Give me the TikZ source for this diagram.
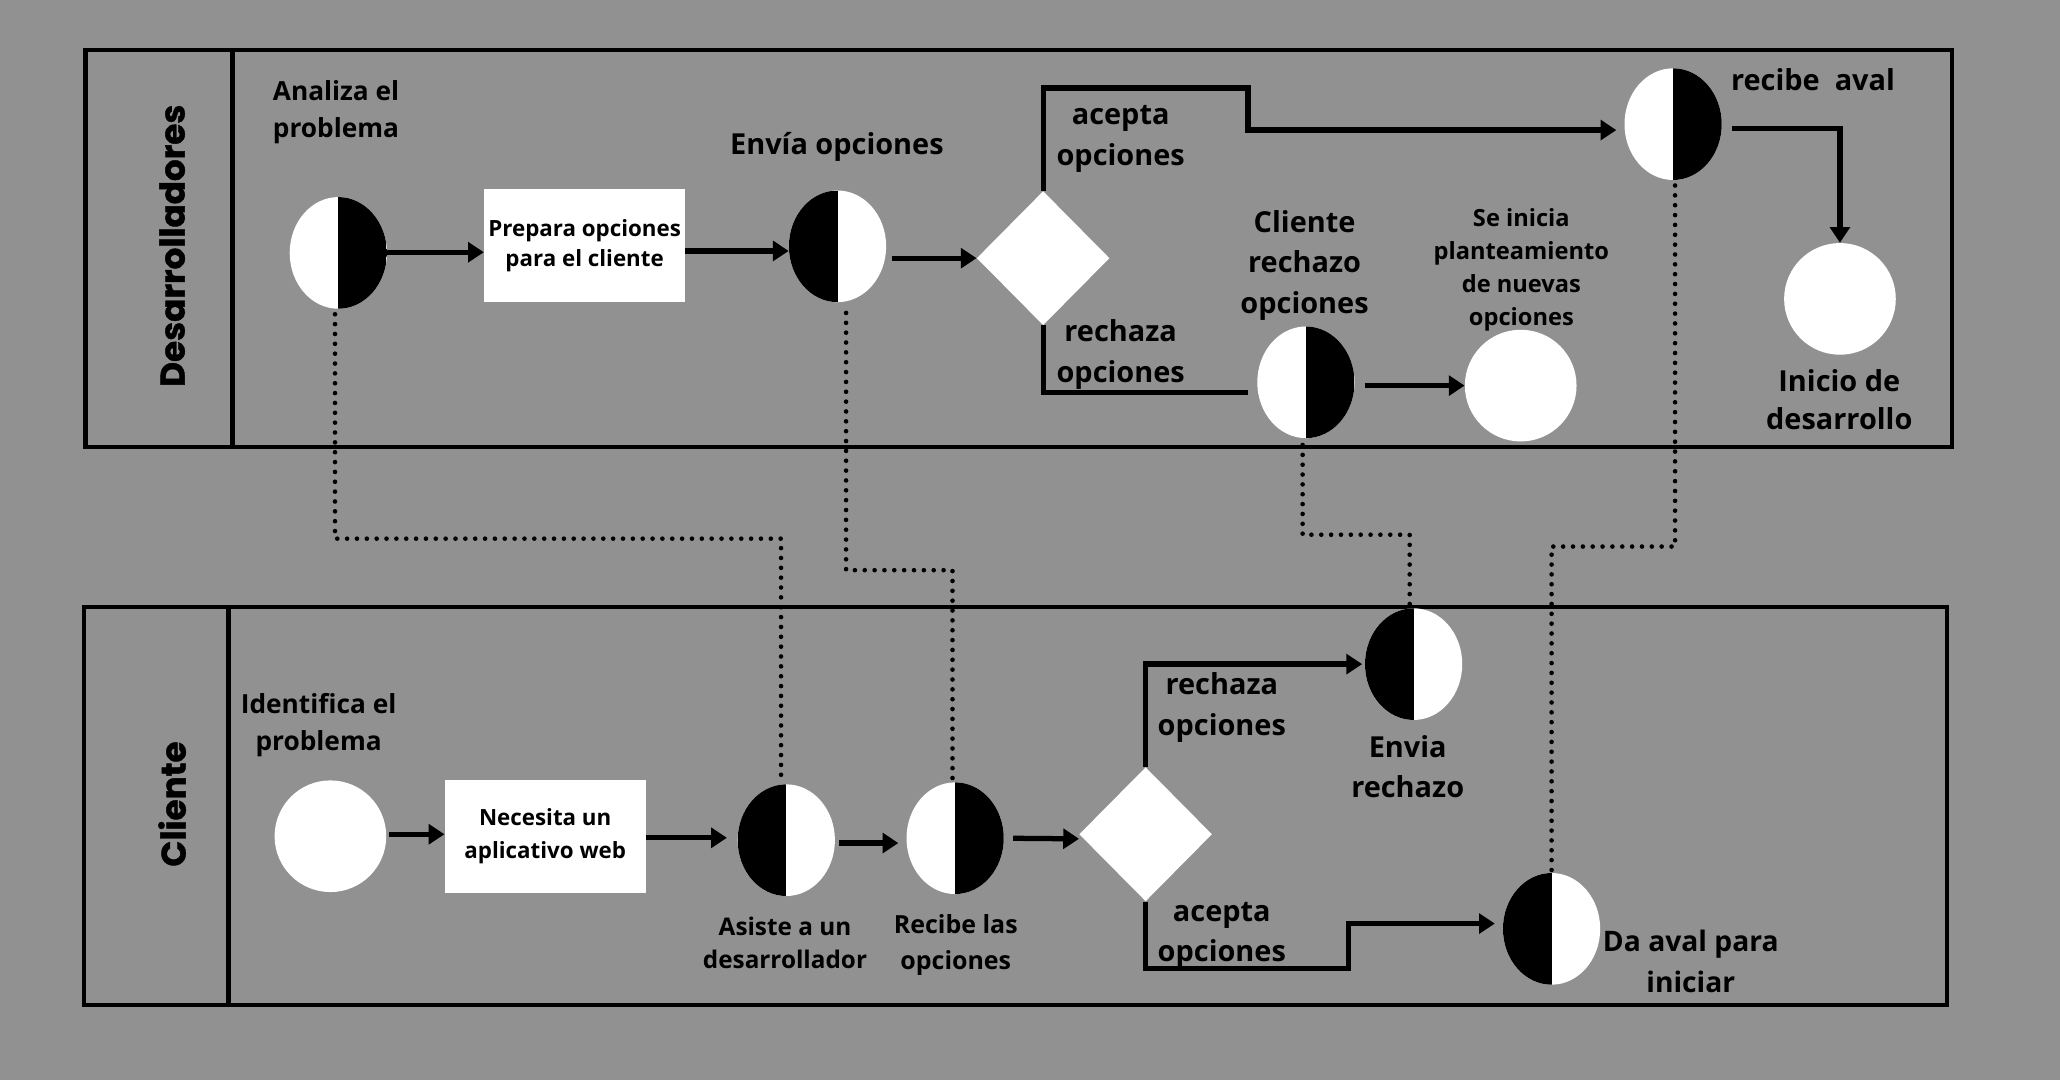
\documentclass[tikz,border=0pt]{standalone}
\usepackage{fontspec}
\setmainfont{Open Sans}
\newfontfamily\lanefont{Poppins}[BoldFeatures={FakeBold=1.2}]
\usetikzlibrary{shapes.geometric,arrows.meta}
\definecolor{bg}{RGB}{145,145,145}
\newcommand\fnt[2]{\bfseries\fontsize{#1}{#2}\selectfont}
\begin{document}
\begin{tikzpicture}[x=1pt,y=-1pt,
 laneline/.style={line width=3.3pt},
 conn/.style={line width=4pt},
 arr/.style={conn,-{Triangle[length=12pt,width=15pt]}},
 dotline/.style={line width=3.5pt,line cap=round,dash pattern=on 0pt off 7.5pt},
 halfnode/.style={ellipse,minimum width=74pt,minimum height=85pt,inner sep=0pt,fill=white},
 halfL/.style={halfnode,path picture={\fill[black] (path picture bounding box.south west) rectangle (path picture bounding box.north);}},
 halfR/.style={halfnode,path picture={\fill[black] (path picture bounding box.south east) rectangle (path picture bounding box.north);}},
 fullnode/.style={circle,minimum size=85pt,inner sep=0pt,fill=white},
 decnode/.style={diamond,minimum width=101pt,minimum height=102pt,inner sep=0pt,fill=white},
 taskbox/.style={rectangle,minimum width=153pt,minimum height=86pt,inner sep=0pt,fill=white,align=center},
 lbl/.style={align=center,inner sep=0pt},
 lanetitle/.style={rotate=90,inner sep=0pt,font=\lanefont\bfseries\fontsize{26}{26}\selectfont},
]
\fill[bg] (0,0) rectangle (1568,822);
\useasboundingbox (0,0) rectangle (1568,822);

% lanes
\draw[laneline] (65,38) rectangle (1486,340);
\draw[laneline] (177,38) -- (177,340);
\draw[laneline] (64,462) rectangle (1482,765);
\draw[laneline] (174,462) -- (174,765);
\node[lanetitle] (ldev) at (131,187) {Desarrolladores};
\node[lanetitle] (lcli) at (131,612) {Cliente};

% top lane nodes
\node[halfR] (c1) at (257.5,192.5) {};
\node[taskbox,font={\fnt{17}{23.5}}] (box1) at (445,187) {Prepara opciones\\para el cliente};
\node[halfL] (c2) at (637.5,187.5) {};
\node[decnode] (d1) at (794,196.5) {};
\node[halfR] (c5) at (1273.5,94.5) {};
\node[fullnode] (c6) at (1400.5,227.5) {};
\node[halfR] (c3) at (994,291) {};
\node[fullnode] (c4) at (1157.5,293.5) {};

% bottom lane nodes
\node[fullnode] (c7s) at (251.5,636.5) {};
\node[taskbox,font={\fnt{17}{25}}] (box2) at (415,636.7) {Necesita un\\aplicativo web};
\node[halfL] (c7) at (598.5,639.5) {};
\node[halfR] (c8) at (727,638) {};
\node[decnode] (d2) at (872,635) {};
\node[halfL] (c9) at (1076,505.5) {};
\node[halfL] (c10) at (1181,707) {};

% labels top
\node[lbl,anchor=west,align=left,font={\fnt{20}{28}}] (tanal) at (207.5,85.5) {Analiza el\\problema};
\node[lbl,font={\fnt{22}{31}}] (tenv) at (637,111.5) {Envía opciones};
\node[lbl,font={\fnt{22}{31}}] (tacep1) at (853,106) {acepta\\opciones};
\node[lbl,font={\fnt{22}{31}}] (trech1) at (853,270) {rechaza\\opciones};
\node[lbl,font={\fnt{22}{31}}] (tcrech) at (993,202) {Cliente\\rechazo\\opciones};
\node[lbl,font={\fnt{18}{25}}] (tseini) at (1158,205.5) {Se inicia\\planteamiento\\de nuevas\\opciones};
\node[lbl,font={\fnt{22}{31}}] (treci) at (1380,61) {recibe~~aval};
\node[lbl,font={\fnt{22}{29}}] (tinic) at (1400,304) {Inicio de\\desarrollo};

% labels bottom
\node[lbl,font={\fnt{20}{28}}] (tident) at (242.5,552) {Identifica el\\problema};
\node[lbl,font={\fnt{18.5}{25.5}}] (tasis) at (597.5,717.5) {Asiste a un\\desarrollador};
\node[lbl,font={\fnt{19}{27.5}}] (treci2) at (727.5,719.5) {Recibe las\\opciones};
\node[lbl,font={\fnt{22}{30.5}}] (trech2) at (930,538.5) {rechaza\\opciones};
\node[lbl,font={\fnt{22}{30.5}}] (tacep2) at (930,712) {acepta\\opciones};
\node[lbl,font={\fnt{22}{31}}] (tenvr) at (1071.5,583.5) {Envia\\rechazo};
\node[lbl,font={\fnt{21.5}{31}}] (tdaval) at (1287,732) {Da aval para\\iniciar};

% connectors top
\draw[arr] (c1.east |- 0,192) -- (box1.west |- 0,192);
\draw[arr] (box1.east |- 0,191) -- (c2.west |- 0,191);
\draw[arr,shorten <=4.5pt] (c2.east |- d1.west) -- (d1.west);
\draw[arr,shorten >=6pt] (d1.north) |- (950,67) |- (c5.west |- 0,99);
\draw[conn,shorten >=7pt] (d1.south) |- (c3.west |- 0,299);
\draw[arr,shorten <=7.5pt] (c3.east |- c4.west) -- (c4.west);
\draw[arr,shorten <=7.5pt] (c5.east |- 0,98) -| (c6.north);

% connectors bottom
\draw[arr,shorten <=2pt] (c7s.east |- 0,635) -- (box2.west |- 0,635);
\draw[arr,shorten >=8pt] (box2.east |- 0,637.7) -- (c7.west |- 0,637.7);
\draw[arr,shorten <=3pt,shorten >=6pt] (c7.east |- 0,641.7) -- (c8.west |- 0,641.7);
\draw[arr,shorten <=7pt] (c8.east) -- ([yshift=-3.5pt]d2.west);
\draw[arr,shorten >=2pt] (d2.north) |- (c9.west);
\draw[arr,shorten >=6pt] (d2.south) |- (1026.5,737) |- (c10.west |- 0,703);

% dotted message flows
\coordinate (sa) at ([xshift=-2.5pt,yshift=-4pt]c1.south);
\coordinate (ea) at ([xshift=-4pt]c7.north);
\draw[dotline] (sa) -- (sa |- 0,410) -- (ea |- 0,410) -- (ea);
\coordinate (sb) at ([xshift=6.5pt,yshift=-8pt]c2.south);
\coordinate (eb) at ([xshift=-2pt]c8.north);
\draw[dotline] (sb) -- (sb |- 0,434) -- (eb |- 0,434) -- (eb);
\coordinate (sc) at ([xshift=-2.5pt,yshift=-5pt]c3.south);
\coordinate (ec) at ([xshift=-3pt]c9.north);
\draw[dotline] (sc) -- (sc |- 0,407) -- (ec |- 0,407) -- (ec);
\coordinate (sd) at ([xshift=1.5pt,yshift=-4pt]c5.south);
\coordinate (ed) at (c10.north);
\draw[dotline] (sd) -- (sd |- 0,416) -- (ed |- 0,416) -- (ed);
\end{tikzpicture}
\end{document}
